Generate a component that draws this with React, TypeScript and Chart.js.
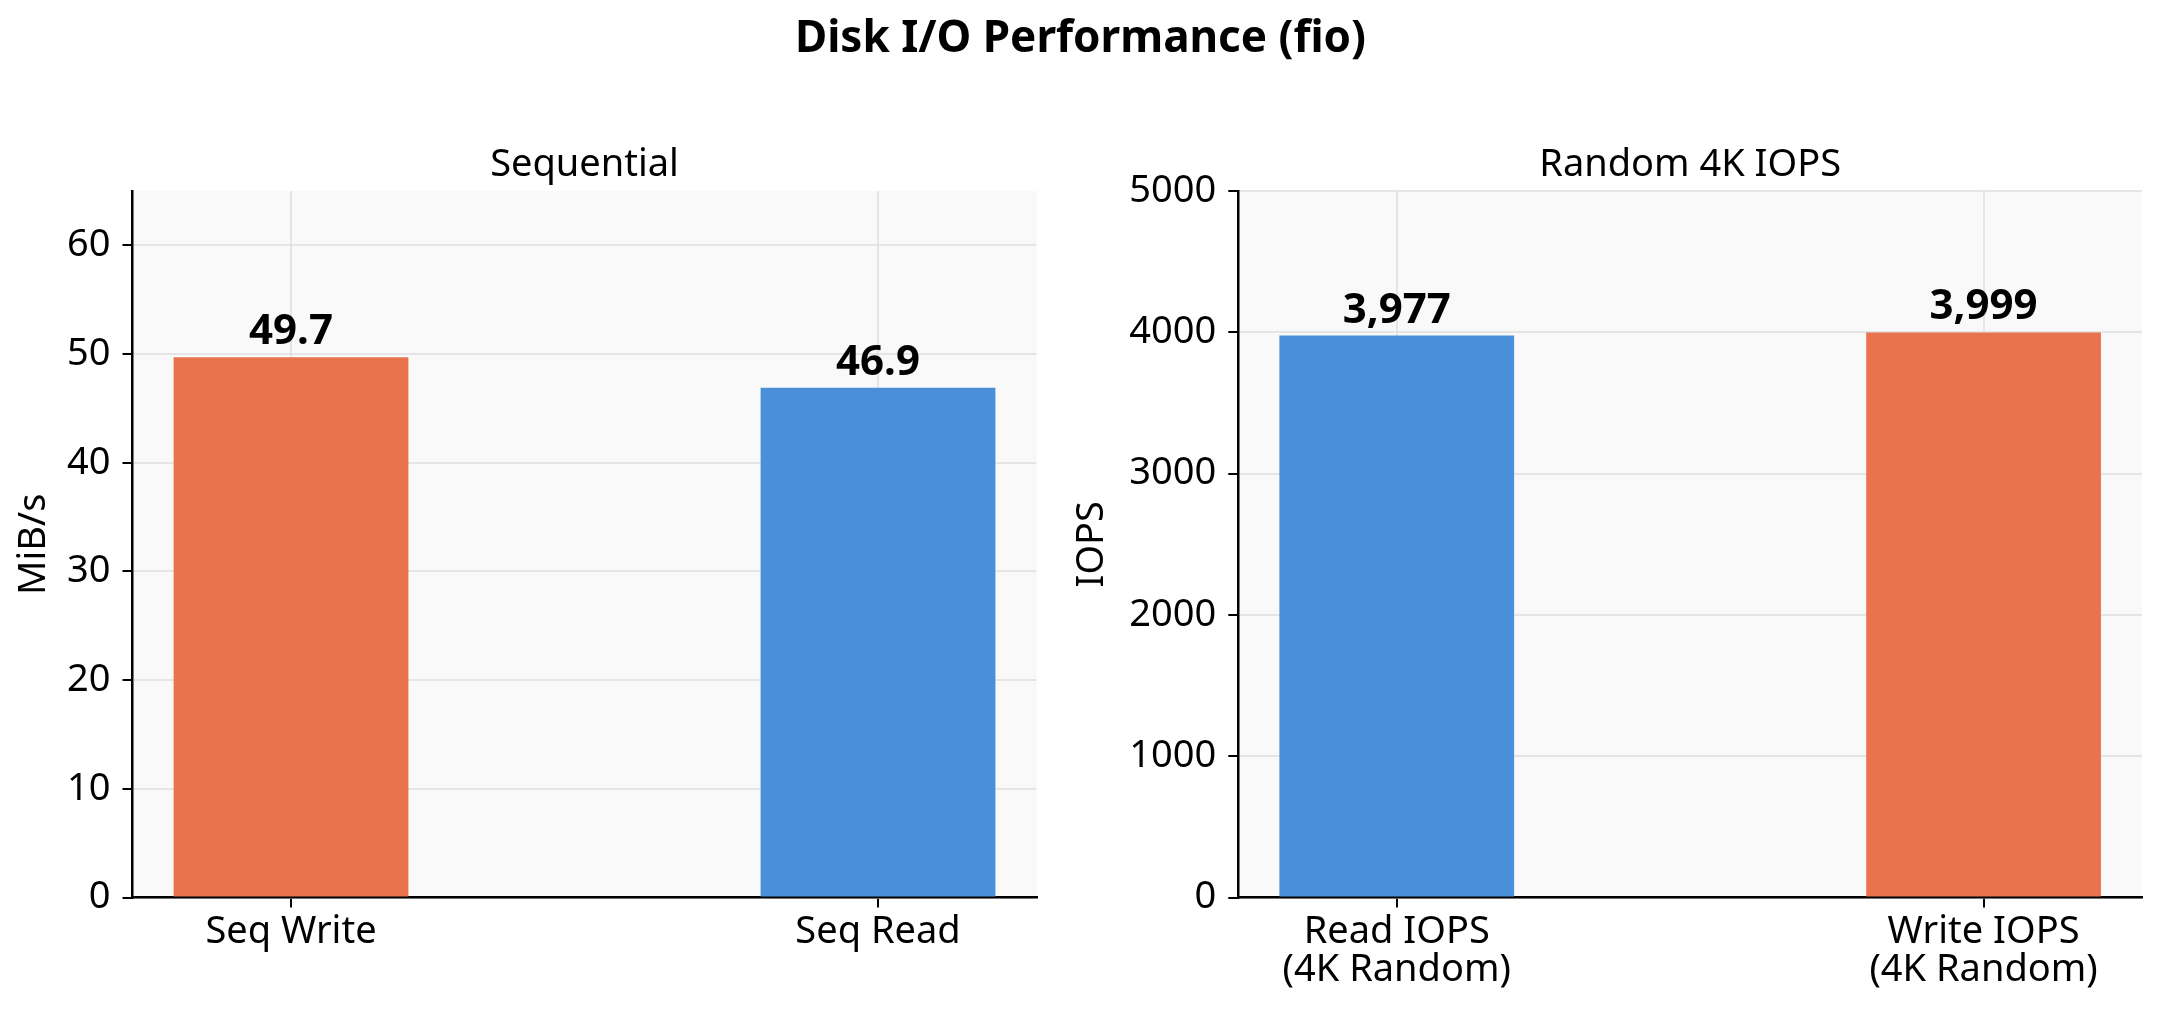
import React, { useEffect, useRef } from "react";
import { Chart, registerables } from "chart.js";

Chart.register(...registerables);

// ---------- data ----------
const suptitle = "Disk I/O Performance (fio)";

const seqTitle = "Sequential";
const seqCategories = ["Seq Write", "Seq Read"];
const seqValues = [49.7, 46.9];
const seqColors = ["#E8734D", "#4A90D9"];
const seqYTicks = [0, 10, 20, 30, 40, 50, 60];
const seqYMax = 65;
const seqYLabel = "MiB/s";

const iopsTitle = "Random 4K IOPS";
const iopsCategories = [
  ["Read IOPS", "(4K Random)"],
  ["Write IOPS", "(4K Random)"],
];
const iopsValues = [3977, 3999];
const iopsColors = ["#4A90D9", "#E8734D"];
const iopsYTicks = [0, 1000, 2000, 3000, 4000, 5000];
const iopsYMax = 5000;
const iopsYLabel = "IOPS";

// ---------- styling / layout ----------
const FIG_W = 2161;
const FIG_H = 1011;
const FONT = "'Noto Sans', 'DejaVu Sans', sans-serif";
const AREA_TOP = 191;
const AREA_BOTTOM = 897.5;
const GRID = "rgba(222,222,222,0.75)";
const PLOT_BG = "#F9F9F9";
const TICK_SIZE = 38;
const TITLE_SIZE = 38;
const VALUE_SIZE = 42;
const SUPTITLE_SIZE = 44;

type Panel = {
  title: string;
  categories: (string | string[])[];
  values: number[];
  colors: string[];
  yTicks: number[];
  yMax: number;
  yLabel: string;
  fmt: (v: number) => string;
  areaLeft: number;
  areaRight: number;
  padLeft: number;
  yLabelBaseX: number;
  drawSuptitle: boolean;
};

const panels: Panel[] = [
  {
    title: seqTitle,
    categories: seqCategories,
    values: seqValues,
    colors: seqColors,
    yTicks: seqYTicks,
    yMax: seqYMax,
    yLabel: seqYLabel,
    fmt: (v) => v.toFixed(1),
    areaLeft: 132.5,
    areaRight: 1036.5,
    padLeft: 0,
    yLabelBaseX: 45,
    drawSuptitle: true,
  },
  {
    title: iopsTitle,
    categories: iopsCategories,
    values: iopsValues,
    colors: iopsColors,
    yTicks: iopsYTicks,
    yMax: iopsYMax,
    yLabel: iopsYLabel,
    fmt: (v) => v.toLocaleString("en-US"),
    areaLeft: 1238.3,
    areaRight: 2142,
    padLeft: 1060,
    yLabelBaseX: 1103,
    drawSuptitle: false,
  },
];

function makePlugin(p: Panel) {
  return {
    id: "panelText",
    beforeDraw(chart: any) {
      const { ctx, chartArea: a } = chart;
      ctx.save();
      ctx.fillStyle = PLOT_BG;
      ctx.fillRect(a.left, a.top, a.right - a.left, a.bottom - a.top);
      ctx.restore();
    },
    afterDraw(chart: any) {
      const { ctx, chartArea: a } = chart;
      ctx.save();
      ctx.fillStyle = "#000";
      ctx.textAlign = "center";
      ctx.textBaseline = "alphabetic";
      // panel title
      ctx.font = `${TITLE_SIZE}px ${FONT}`;
      ctx.fillText(p.title, (a.left + a.right) / 2, a.top - 15);
      // y axis label
      ctx.save();
      ctx.translate(p.yLabelBaseX, (a.top + a.bottom) / 2);
      ctx.rotate(-Math.PI / 2);
      ctx.fillText(p.yLabel, 0, 0);
      ctx.restore();
      // bar values
      ctx.font = `bold ${VALUE_SIZE}px ${FONT}`;
      const meta = chart.getDatasetMeta(0);
      meta.data.forEach((el: any, i: number) => {
        ctx.fillText(p.fmt(p.values[i]), el.x, el.y - 13);
      });
      if (p.drawSuptitle) {
        ctx.font = `bold ${SUPTITLE_SIZE}px ${FONT}`;
        ctx.fillText(suptitle, FIG_W / 2, 52);
      }
      ctx.restore();
    },
  };
}

function makeConfig(p: Panel): any {
  return {
    type: "bar",
    data: {
      datasets: [
        {
          data: p.values.map((v, i) => ({ x: i, y: v })),
          backgroundColor: p.colors,
          borderWidth: 0,
          barPercentage: 0.4,
          categoryPercentage: 1,
        },
      ],
    },
    options: {
      animation: false,
      responsive: false,
      maintainAspectRatio: false,
      devicePixelRatio: 1,
      layout: {
        padding: {
          top: AREA_TOP,
          bottom: 0,
          left: p.padLeft,
          right: FIG_W - p.areaRight,
        },
      },
      plugins: {
        legend: { display: false },
        tooltip: { enabled: false },
        title: { display: false },
      },
      scales: {
        x: {
          type: "linear",
          min: -0.27,
          max: p.categories.length - 1 + 0.27,
          offset: false,
          z: 1,
          afterBuildTicks: (s: any) => {
            s.ticks = p.categories.map((_, i) => ({ value: i }));
          },
          afterFit: (s: any) => {
            s.height = FIG_H - AREA_BOTTOM;
          },
          ticks: {
            autoSkip: false,
            maxRotation: 0,
            minRotation: 0,
            padding: 6,
            color: "#000",
            font: { family: FONT, size: TICK_SIZE, lineHeight: 1.0 },
            callback: (v: any) => p.categories[Math.round(v)],
          },
          grid: {
            offset: false,
            color: GRID,
            lineWidth: 2,
            drawTicks: true,
            tickLength: 10,
            tickColor: "#000",
            tickWidth: 2,
          },
          border: { display: true, color: "#000", width: 2.5 },
        },
        y: {
          type: "linear",
          min: 0,
          max: p.yMax,
          z: 1,
          afterBuildTicks: (s: any) => {
            s.ticks = p.yTicks.map((v) => ({ value: v }));
          },
          afterFit: (s: any) => {
            s.width = p.areaLeft - p.padLeft;
          },
          ticks: {
            padding: 12,
            color: "#000",
            font: { family: FONT, size: TICK_SIZE },
            callback: (v: any) => String(v),
          },
          grid: {
            color: GRID,
            lineWidth: 2,
            drawTicks: true,
            tickLength: 10,
            tickColor: "#000",
            tickWidth: 2,
          },
          border: { display: true, color: "#000", width: 2.5 },
        },
      },
    },
    plugins: [makePlugin(p)],
  };
}

function PanelCanvas({ panel }: { panel: Panel }) {
  const ref = useRef<HTMLCanvasElement | null>(null);
  useEffect(() => {
    if (!ref.current) return;
    const chart = new Chart(ref.current, makeConfig(panel));
    return () => chart.destroy();
  }, [panel]);
  return (
    <canvas
      ref={ref}
      width={FIG_W}
      height={FIG_H}
      style={{
        position: "absolute",
        left: 0,
        top: 0,
        width: FIG_W,
        height: FIG_H,
      }}
    />
  );
}

export default function App() {
  return (
    <div
      style={{
        position: "fixed",
        left: 0,
        top: 0,
        width: FIG_W,
        height: FIG_H,
        background: "#fff",
        overflow: "hidden",
      }}
    >
      {panels.map((p, i) => (
        <PanelCanvas key={i} panel={p} />
      ))}
    </div>
  );
}
